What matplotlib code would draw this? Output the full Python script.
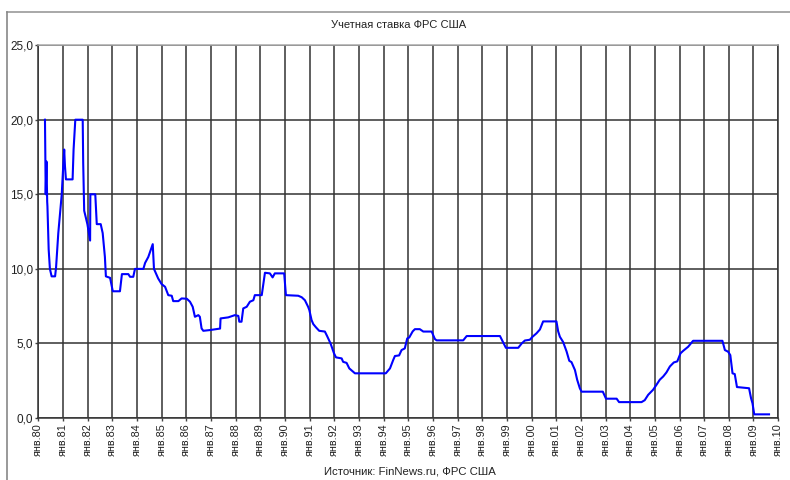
import matplotlib
matplotlib.use('Agg')
import matplotlib.pyplot as plt
from matplotlib.lines import Line2D

plt.rcParams['font.family'] = ['Liberation Sans', 'DejaVu Sans']

# точки перегиба линии (год в долях, ставка %)
years = [1980.27, 1980.30, 1980.33, 1980.36, 1980.37, 1980.42, 1980.47, 1980.54, 1980.68,
         1980.72, 1980.81, 1980.95, 1981.01, 1981.05, 1981.08, 1981.12, 1981.39, 1981.43,
         1981.50, 1981.80, 1981.82, 1981.86, 1981.99, 1982.10, 1982.11, 1982.31, 1982.37,
         1982.53, 1982.61, 1982.70, 1982.74, 1982.91, 1983.02, 1983.31, 1983.39, 1983.65,
         1983.72, 1983.85, 1983.92, 1984.26, 1984.33, 1984.46, 1984.64, 1984.69, 1984.86,
         1985.00, 1985.14, 1985.27, 1985.41, 1985.47, 1985.68, 1985.81, 1986.02, 1986.15,
         1986.26, 1986.35, 1986.49, 1986.55, 1986.62, 1986.69, 1986.96, 1987.37, 1987.39,
         1987.70, 1987.97, 1988.11, 1988.15, 1988.24, 1988.31, 1988.45, 1988.58, 1988.72,
         1988.78, 1989.06, 1989.19, 1989.39, 1989.50, 1989.59, 1989.97, 1990.04, 1990.54,
         1990.68, 1990.81, 1990.94, 1990.99, 1991.08, 1991.15, 1991.26, 1991.39, 1991.62,
         1991.71, 1991.85, 1991.99, 1992.07, 1992.30, 1992.36, 1992.50, 1992.61, 1992.70,
         1992.77, 1992.84, 1994.09, 1994.26, 1994.39, 1994.46, 1994.63, 1994.73, 1994.86,
         1994.96, 1995.04, 1995.18, 1995.27, 1995.47, 1995.61, 1995.95, 1996.08, 1996.15,
         1997.23, 1997.37, 1998.72, 1998.96, 1999.46, 1999.60, 1999.73, 1999.93, 2000.04,
         2000.20, 2000.34, 2000.47, 2001.01, 2001.08, 2001.15, 2001.28, 2001.42, 2001.53,
         2001.62, 2001.76, 2001.85, 2001.96, 2002.03, 2002.89, 2003.02, 2003.45, 2003.55,
         2004.46, 2004.59, 2004.73, 2004.93, 2005.07, 2005.20, 2005.34, 2005.47, 2005.61,
         2005.77, 2005.91, 2006.04, 2006.15, 2006.35, 2006.55, 2007.74, 2007.84, 2007.97,
         2008.06, 2008.15, 2008.24, 2008.33, 2008.82, 2008.90, 2008.96, 2009.03, 2009.63]
rates = [20.0, 15.0, 17.2, 14.5, 14.2, 11.3, 10.0, 9.5, 9.5,
         10.1, 12.4, 15.0, 16.9, 18.0, 16.9, 16.0, 16.0, 18.0,
         20.0, 20.0, 17.1, 13.9, 13.0, 11.9, 15.0, 15.0, 13.0,
         13.0, 12.4, 10.8, 9.5, 9.4, 8.5, 8.5, 9.65, 9.65,
         9.47, 9.47, 10.0, 10.0, 10.4, 10.8, 11.66, 10.0, 9.36,
         8.98, 8.8, 8.24, 8.2, 7.84, 7.84, 8.02, 8.0, 7.8,
         7.46, 6.79, 6.9, 6.79, 6.01, 5.85, 5.9, 6.0, 6.68,
         6.75, 6.9, 6.85, 6.46, 6.46, 7.35, 7.46, 7.8, 7.9,
         8.24, 8.24, 9.74, 9.7, 9.43, 9.7, 9.7, 8.24, 8.2,
         8.1, 7.9, 7.46, 7.24, 6.57, 6.3, 6.08, 5.85, 5.8,
         5.5, 5.0, 4.34, 4.07, 4.0, 3.77, 3.7, 3.33, 3.2,
         3.1, 3.0, 3.0, 3.33, 3.89, 4.16, 4.2, 4.56, 4.67,
         5.34, 5.4, 5.81, 5.96, 5.96, 5.8, 5.8, 5.3, 5.21,
         5.21, 5.5, 5.5, 4.71, 4.71, 5.0, 5.2, 5.25, 5.45,
         5.68, 5.94, 6.48, 6.48, 5.81, 5.45, 5.1, 4.47, 3.84,
         3.75, 3.22, 2.57, 1.99, 1.77, 1.77, 1.3, 1.3, 1.07,
         1.07, 1.2, 1.56, 1.9, 2.24, 2.57, 2.79, 3.06, 3.46,
         3.73, 3.8, 4.34, 4.51, 4.78, 5.18, 5.18, 4.56, 4.45,
         4.22, 3.0, 2.95, 2.08, 2.0, 1.34, 0.99, 0.25, 0.25]

tick_years = list(range(1980, 2011))
tick_labels = [f'янв.{y % 100:02d}' for y in tick_years]
y_ticks = [0, 5, 10, 15, 20, 25]

fig = plt.figure(figsize=(7.9, 4.8), dpi=100)
ax = fig.add_axes([0.0485, 0.129, 0.9365, 0.777])

ax.plot(years, rates, color='#0000ff', linewidth=1.5, zorder=3)

ax.set_xlim(1980, 2010)
ax.set_ylim(0, 25)
ax.set_xticks(tick_years)
ax.set_xticklabels(tick_labels, rotation=90, fontsize=7.8, color='#222222')
ax.set_yticks(y_ticks)
ax.set_yticklabels([f'{v:.1f}'.replace('.', ',') for v in y_ticks], fontsize=8.5, color='#222222')
ax.tick_params(axis='both', length=2, width=1, color='#444444', pad=1.5)
ax.grid(True, color='#333333', linewidth=1.1)
for side in ['left', 'bottom', 'right']:
    ax.spines[side].set_color('#333333')
    ax.spines[side].set_linewidth(1.1)
ax.spines['top'].set_color('#aaaaaa')
ax.spines['top'].set_linewidth(1.1)

fig.text(0.504, 0.947, 'Учетная ставка ФРС США', ha='center', va='center',
         fontsize=8, color='#222222')
fig.text(0.519, 0.017, 'Источник: FinNews.ru, ФРС США', ha='center', va='center',
         fontsize=8.2, color='#222222')

# рамка области диаграммы
fig.add_artist(Line2D([0.009, 1.0], [0.975, 0.975], color='#999999', linewidth=1.2))
fig.add_artist(Line2D([0.009, 0.009], [0.0, 0.975], color='#888888', linewidth=1.2))

fig.savefig('out.png', dpi=100)
